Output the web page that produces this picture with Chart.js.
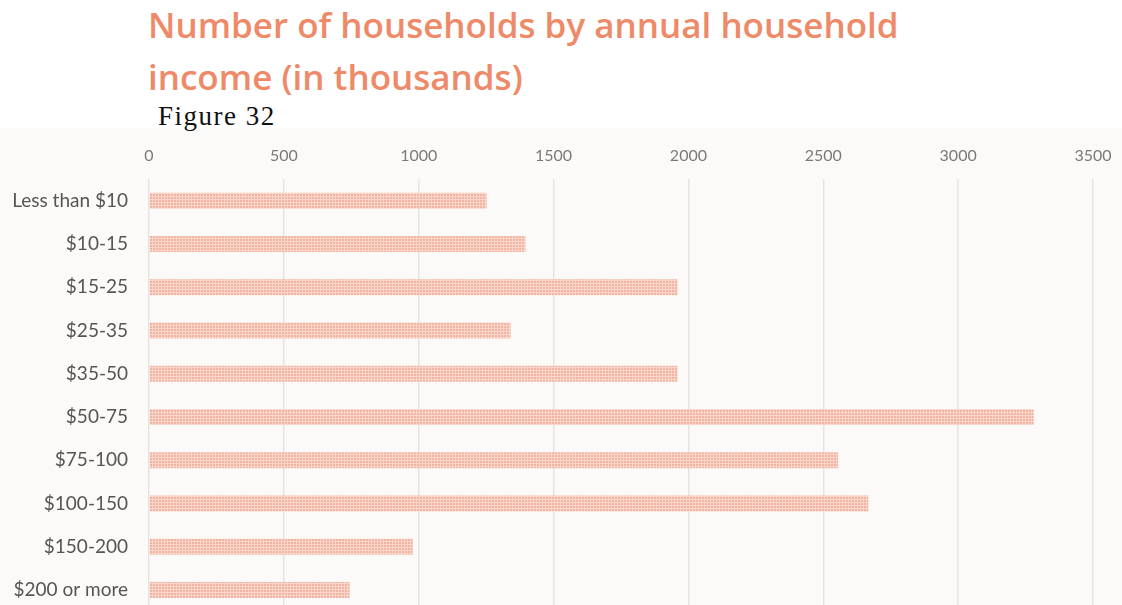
<!DOCTYPE html>
<html>
<head>
<meta charset="utf-8">
<script src="https://cdn.jsdelivr.net/npm/chart.js@4.4.1/dist/chart.umd.min.js"></script>
<style>
  html, body { margin: 0; padding: 0; width: 1122px; height: 605px; overflow: hidden; background: #ffffff; }
  #title { position: absolute; left: 148px; top: -1px; font-family: "Open Sans", sans-serif; font-weight: 600; font-size: 35px; line-height: 52px; color: #ee8a68; white-space: nowrap; }
  #fig { position: absolute; left: 158px; top: 101px; font-family: "Liberation Serif", serif; font-size: 27px; letter-spacing: 1.5px; color: #111; white-space: nowrap; }
  #bg { position: absolute; left: 0; top: 128px; width: 1122px; height: 490px; background: #fcfaf8; }
  #wrap { position: absolute; left: 0; top: 128px; width: 1122px; height: 508px; }
</style>
</head>
<body>
<div id="bg"></div>
<div id="title">Number of households by annual household<br>income (in thousands)</div>
<div id="fig">Figure 32</div>
<div id="wrap"><canvas id="c" width="1122" height="508"></canvas></div>
<script>
const categories = ["Less than $10", "$10-15", "$15-25", "$25-35", "$35-50", "$50-75", "$75-100", "$100-150", "$150-200", "$200 or more"];
const households = [1252, 1396, 1960, 1341, 1960, 3280, 2555, 2667, 978, 744];
const xTicks = [0, 500, 1000, 1500, 2000, 2500, 3000, 3500];

function makePattern() {
  const p = document.createElement('canvas');
  p.width = 3; p.height = 3;
  const g = p.getContext('2d');
  g.fillStyle = '#fad6ca';
  g.fillRect(0, 0, 3, 3);
  g.fillStyle = '#f2b4a2';
  g.fillRect(0, 0, 2, 2);
  return document.getElementById('c').getContext('2d').createPattern(p, 'repeat');
}

new Chart(document.getElementById('c'), {
  type: 'bar',
  data: {
    labels: categories,
    datasets: [{
      data: households,
      backgroundColor: makePattern(),
      borderWidth: 0,
      barPercentage: 0.37,
      categoryPercentage: 1.0
    }]
  },
  options: {
    indexAxis: 'y',
    responsive: false,
    animation: false,
    layout: { padding: { left: 0, right: 29, top: 0, bottom: 0 } },
    plugins: { legend: { display: false }, tooltip: { enabled: false } },
    scales: {
      x: {
        position: 'top',
        min: 0, max: 3500,
        afterBuildTicks: (s) => { s.ticks = xTicks.map(v => ({ value: v })); },
        afterFit: (s) => { s.height = 51; s.paddingRight = 0; s.paddingLeft = 0; },
        grid: { color: '#e6e4e2', lineWidth: 1.5, drawTicks: false },
        border: { display: false },
        ticks: { color: '#7a7a7a', font: { family: 'Lato', size: 16 }, padding: 14, callback: (v) => String(v) }
      },
      y: {
        afterFit: (s) => { s.width = 149; },
        grid: { display: false },
        border: { display: false },
        ticks: { color: '#555555', font: { family: 'Lato', size: 19 }, padding: 13 }
      }
    }
  }
});
</script>
</body>
</html>
